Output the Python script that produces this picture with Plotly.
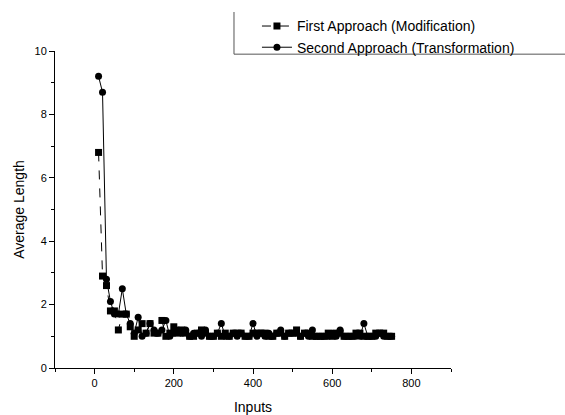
import plotly.graph_objects as go

inputs = list(range(10, 760, 10))

first_approach = [6.8, 2.9, 2.6, 1.8, 1.8, 1.2, 1.7, 1.7, 1.3, 1.0,
                  1.2, 1.4, 1.1, 1.4, 1.1, 1.1, 1.5, 1.0, 1.1, 1.3,
                  1.1, 1.2, 1.1, 1.0, 1.0, 1.1, 1.2, 1.1, 1.0, 1.0,
                  1.1, 1.0, 1.1, 1.0, 1.1, 1.1, 1.1, 1.0, 1.0, 1.1,
                  1.1, 1.1, 1.1, 1.0, 1.0, 1.1, 1.1, 1.0, 1.1, 1.1,
                  1.2, 1.0, 1.1, 1.1, 1.0, 1.0, 1.0, 1.0, 1.1, 1.0,
                  1.1, 1.1, 1.0, 1.0, 1.0, 1.1, 1.1, 1.0, 1.0, 1.0,
                  1.1, 1.1, 1.1, 1.0, 1.0]

second_approach = [9.2, 8.7, 2.8, 2.1, 1.7, 1.7, 2.5, 1.7, 1.4, 1.1,
                   1.6, 1.0, 1.1, 1.4, 1.2, 1.1, 1.2, 1.5, 1.0, 1.1,
                   1.2, 1.1, 1.2, 1.0, 1.1, 1.1, 1.0, 1.2, 1.0, 1.0,
                   1.1, 1.4, 1.0, 1.0, 1.1, 1.0, 1.1, 1.0, 1.0, 1.4,
                   1.0, 1.1, 1.0, 1.1, 1.0, 1.1, 1.2, 1.0, 1.1, 1.1,
                   1.1, 1.0, 1.1, 1.0, 1.2, 1.0, 1.0, 1.0, 1.0, 1.1,
                   1.0, 1.2, 1.0, 1.0, 1.0, 1.0, 1.0, 1.4, 1.0, 1.0,
                   1.0, 1.1, 1.0, 1.0, 1.0]

FONT = 'Liberation Sans, Arial, sans-serif'

fig = go.Figure()
fig.add_trace(go.Scatter(x=inputs, y=first_approach, mode='lines+markers',
                         name='First Approach (Modification)',
                         line=dict(color='black', width=1, dash='dash'),
                         marker=dict(symbol='square', size=7, color='black')))
fig.add_trace(go.Scatter(x=inputs, y=second_approach, mode='lines+markers',
                         name='Second Approach (Transformation)',
                         line=dict(color='black', width=1),
                         marker=dict(symbol='circle', size=7, color='black')))

axis_style = dict(showline=True, linecolor='black', linewidth=1, showgrid=False,
                  zeroline=False, ticks='outside', ticklen=5, tickcolor='black',
                  tickfont=dict(family=FONT, size=11, color='black'),
                  title_font=dict(family=FONT, size=14, color='black'))

fig.update_xaxes(range=[-100, 900], dtick=200, tick0=0, title_text='Inputs',
                 minor=dict(dtick=100, ticks='outside', ticklen=3, tickcolor='black'),
                 **axis_style)
fig.update_yaxes(range=[0, 10], dtick=2, tick0=0, title_text='Average Length',
                 title_standoff=6,
                 minor=dict(dtick=1, ticks='outside', ticklen=3, tickcolor='black'),
                 **axis_style)

# legend frame: only the left and bottom edges are visible
fig.add_shape(type='line', xref='paper', yref='paper', x0=0.452, x1=1.3,
              y0=0.99, y1=0.99, line=dict(color='#555555', width=1))
fig.add_shape(type='line', xref='paper', yref='paper', x0=0.452, x1=0.452,
              y0=0.99, y1=1.123, line=dict(color='#555555', width=1))

fig.update_layout(width=565, height=415, plot_bgcolor='white', paper_bgcolor='white',
                  margin=dict(l=55, r=114, t=51, b=47, autoexpand=False),
                  font=dict(family=FONT, color='black'),
                  legend=dict(x=0.51, y=1.128, xanchor='left', yanchor='top',
                              bgcolor='rgba(0,0,0,0)',
                              font=dict(family=FONT, size=14, color='black'),
                              tracegroupgap=0))

fig.write_html("out.html", config={'displayModeBar': False},
               post_script="document.body.style.margin='0';")
